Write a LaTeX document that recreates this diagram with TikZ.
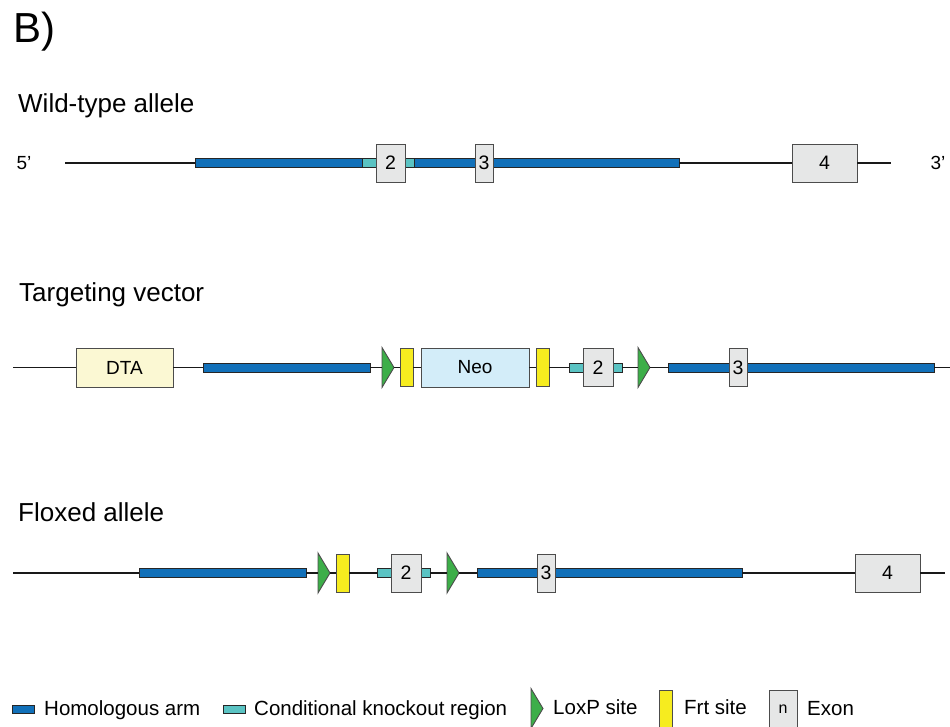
\documentclass[tikz,border=0pt]{standalone}
\usepackage{fontspec}
\setmainfont{Liberation Sans}
\usetikzlibrary{shapes.geometric}

\definecolor{armblue}{HTML}{1170B9}
\definecolor{ckocyan}{HTML}{5AC3C3}
\definecolor{loxgreen}{HTML}{3DAE49}
\definecolor{frtyellow}{HTML}{F6EC1F}
\definecolor{exongray}{HTML}{E6E7E7}
\definecolor{dtafill}{HTML}{FBF8D3}
\definecolor{neofill}{HTML}{D3EDF9}

\begin{document}
\begin{tikzpicture}[x=1pt, y=-1pt]
    \tikzstyle{backbone} = [draw=black!90, line width=1.6pt]
    \tikzstyle{arm} = [rectangle, draw=black!85, fill=armblue, minimum height=9pt, inner sep=0pt, outer sep=0pt, anchor=west, line width=0.9pt]
    \tikzstyle{cko} = [rectangle, draw=black!85, fill=ckocyan, minimum height=9pt, inner sep=0pt, outer sep=0pt, anchor=west, line width=0.9pt]
    \tikzstyle{exon} = [rectangle, draw=black!70, fill=exongray, minimum height=38pt, inner sep=0pt, outer sep=0pt, anchor=west, line width=0.9pt, font=\fontsize{19.5}{22}\selectfont]
    \tikzstyle{frt} = [rectangle, draw=black!70, fill=frtyellow, minimum width=13pt, minimum height=38pt, inner sep=0pt, outer sep=0pt, anchor=west, line width=0.9pt]
    \tikzstyle{loxp} = [isosceles triangle, isosceles triangle stretches, draw=black!70, fill=loxgreen, minimum width=40pt, minimum height=12pt, inner sep=0pt, outer sep=0pt, anchor=west, line width=0.9pt]
    \tikzstyle{cassette} = [rectangle, draw=black!70, minimum height=39pt, inner sep=0pt, outer sep=0pt, anchor=west, line width=0.9pt, font=\fontsize{19}{22}\selectfont]
    \tikzstyle{title} = [anchor=base west, inner sep=0pt, font=\fontsize{26}{30}\selectfont]
    \tikzstyle{legendtext} = [anchor=base west, inner sep=0pt, font=\fontsize{20.5}{24}\selectfont]

    \useasboundingbox (0,0) rectangle (950,726);

    % Panel label and row titles
    \node [anchor=base west, inner sep=0pt, font=\fontsize{42}{48}\selectfont] (panel) at (13,42) {B)};
    \node [title] (wt-title) at (18,112) {Wild-type allele};
    \node [title] (tv-title) at (19,301) {Targeting vector};
    \node [title] (fl-title) at (18,521) {Floxed allele};

    % Wild-type allele
    \node [font=\fontsize{19}{22}\selectfont] (wt-five) at (24,163) {5’};
    \node [font=\fontsize{19}{22}\selectfont] (wt-three) at (938,163) {3’};
    \coordinate (wt-start) at (65,163);
    \coordinate (wt-end) at (891,163);
    \node [arm, minimum width=167pt] (wt-arm1) at (195,163) {};
    \node [cko, minimum width=52pt] (wt-cko) at (362,163) {};
    \node [arm, minimum width=265pt] (wt-arm2) at (414,163) {};
    \node [exon, minimum width=29pt] (wt-ex2) at (376,163) {2};
    \node [exon, minimum width=18pt] (wt-ex3) at (475,163) {3};
    \node [exon, minimum width=65pt] (wt-ex4) at (792,163) {4};
    \draw [backbone] (wt-start) -- (wt-arm1) (wt-arm2) -- (wt-ex4) (wt-ex4) -- (wt-end);

    % Targeting vector
    \coordinate (tv-start) at (13,367.5);
    \coordinate (tv-end) at (950,367.5);
    \node [cassette, fill=dtafill, minimum width=97pt] (tv-dta) at (76,367.5) {DTA};
    \node [arm, minimum width=167pt] (tv-arm1) at (203,367.5) {};
    \node [loxp] (tv-lox1) at (382,367.5) {};
    \node [frt] (tv-frt1) at (400,367.5) {};
    \node [cassette, fill=neofill, minimum width=108pt] (tv-neo) at (421,367.5) {Neo};
    \node [frt] (tv-frt2) at (536,367.5) {};
    \node [cko, minimum width=53pt] (tv-cko) at (569,367.5) {};
    \node [exon, minimum width=30pt] (tv-ex2) at (583,367.5) {2};
    \node [loxp] (tv-lox2) at (638,367.5) {};
    \node [arm, minimum width=266pt] (tv-arm2) at (668,367.5) {};
    \node [exon, minimum width=18pt] (tv-ex3) at (729,367.5) {3};
    \draw [backbone] (tv-start) -- (tv-dta) (tv-dta) -- (tv-arm1) (tv-arm1) -- (tv-lox1)
        (tv-lox1) -- (tv-frt1) (tv-frt1) -- (tv-neo) (tv-neo) -- (tv-frt2) (tv-frt2) -- (tv-cko)
        (tv-cko) -- (tv-lox2) (tv-lox2) -- (tv-arm2) (tv-arm2) -- (tv-end);

    % Floxed allele
    \coordinate (fl-start) at (13,573);
    \coordinate (fl-end) at (945,573);
    \node [arm, minimum width=167pt] (fl-arm1) at (139,573) {};
    \node [loxp] (fl-lox1) at (318,573) {};
    \node [frt] (fl-frt1) at (336,573) {};
    \node [cko, minimum width=53pt] (fl-cko) at (377,573) {};
    \node [exon, minimum width=30pt] (fl-ex2) at (391,573) {2};
    \node [loxp] (fl-lox2) at (447,573) {};
    \node [arm, minimum width=265pt] (fl-arm2) at (477,573) {};
    \node [exon, minimum width=18pt] (fl-ex3) at (537,573) {3};
    \node [exon, minimum width=65pt] (fl-ex4) at (855,573) {4};
    \draw [backbone] (fl-start) -- (fl-arm1) (fl-arm1) -- (fl-lox1) (fl-lox1) -- (fl-frt1)
        (fl-frt1) -- (fl-cko) (fl-cko) -- (fl-lox2) (fl-lox2) -- (fl-arm2)
        (fl-arm2) -- (fl-ex4) (fl-ex4) -- (fl-end);

    % Legend
    \node [arm, minimum width=22pt, minimum height=8pt] (key-arm) at (12,709) {};
    \node [legendtext] (key-arm-text) at (44,715) {Homologous arm};
    \node [cko, minimum width=22pt, minimum height=8pt] (key-cko) at (223,709) {};
    \node [legendtext] (key-cko-text) at (254,715) {Conditional knockout region};
    \node [loxp] (key-lox) at (531,708.5) {};
    \node [legendtext] (key-lox-text) at (553,714) {LoxP site};
    \node [frt] (key-frt) at (659,709) {};
    \node [legendtext] (key-frt-text) at (684,714) {Frt site};
    \node [exon, minimum width=28pt, font=\fontsize{16}{18}\selectfont] (key-exon) at (769,709) {n};
    \node [legendtext] (key-exon-text) at (807,715) {Exon};
\end{tikzpicture}
\end{document}
